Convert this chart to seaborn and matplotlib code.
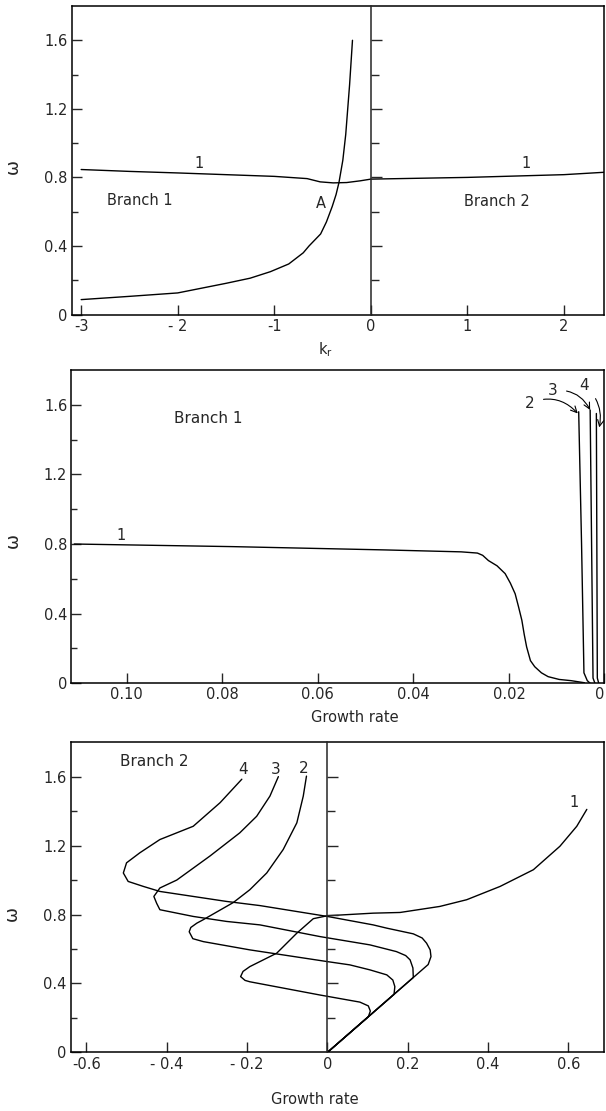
import matplotlib
matplotlib.use("Agg")
import matplotlib.pyplot as plt
import seaborn as sns

# ---- panel 1: omega vs k_r ----
kr_curve1 = [-3.0, -2.5, -2.0, -1.5, -1.0, -0.66, -0.525, -0.39, -0.25, -0.11, 0.0, 0.5, 1.0, 1.5, 2.0, 2.42]
w_curve1 = [0.846, 0.835, 0.826, 0.816, 0.806, 0.793, 0.774, 0.768, 0.770, 0.780, 0.790, 0.795, 0.800, 0.808, 0.816, 0.830]
kr_curveA = [-3.0, -2.5, -2.0, -1.5, -1.25, -1.04, -0.85, -0.70, -0.64, -0.58, -0.52, -0.46,
             -0.40, -0.36, -0.33, -0.29, -0.26, -0.22, -0.19]
w_curveA = [0.087, 0.106, 0.126, 0.182, 0.212, 0.25, 0.295, 0.36, 0.40, 0.435, 0.47, 0.54,
            0.63, 0.70, 0.77, 0.90, 1.05, 1.34, 1.60]

# ---- panel 2: branch 1, omega vs growth rate ----
g1_curve1 = [0.111, 0.0778, 0.0458, 0.030, 0.0266, 0.0255, 0.0243, 0.0225, 0.0208, 0.0197, 0.0187,
             0.0180, 0.0173, 0.0168, 0.0163, 0.0155, 0.0146, 0.0132, 0.0118, 0.0095, 0.0070, 0.0042]
w1_curve1 = [0.80, 0.785, 0.766, 0.755, 0.748, 0.735, 0.705, 0.675, 0.63, 0.575, 0.514,
             0.44, 0.362, 0.28, 0.209, 0.13, 0.095, 0.06, 0.038, 0.022, 0.015, 0.003]
g1_curve2 = [0.0054, 0.0048, 0.0043, 0.0036, 0.0030]
w1_curve2 = [1.56, 0.80, 0.06, 0.015, 0.0]
g1_curve3 = [0.0030, 0.0027, 0.0024, 0.0020]
w1_curve3 = [1.57, 0.80, 0.03, 0.0]
g1_curve4 = [0.0017, 0.0016, 0.0015, 0.0012]
w1_curve4 = [1.55, 0.80, 0.03, 0.0]

# ---- panel 3: branch 2, omega vs growth rate ----
g2_curve1 = [0.0, 0.102, 0.107, 0.102, 0.081, -0.018, -0.193, -0.205, -0.216, -0.21, -0.193, -0.126, -0.076,
             -0.035, 0.0, 0.114, 0.181, 0.28, 0.347, 0.43, 0.513, 0.579, 0.621, 0.646]
w2_curve1 = [0.0, 0.207, 0.24, 0.27, 0.292, 0.333, 0.41, 0.418, 0.44, 0.47, 0.498, 0.576, 0.692,
             0.776, 0.793, 0.808, 0.812, 0.847, 0.886, 0.963, 1.06, 1.196, 1.312, 1.41]
g2_curve2 = [-0.052, -0.060, -0.076, -0.110, -0.151, -0.193, -0.234, -0.309, -0.325, -0.340, -0.344, -0.335,
             -0.309, -0.193, 0.0, 0.056, 0.106, 0.148, 0.163, 0.168, 0.166, 0.0]
w2_curve2 = [1.603, 1.487, 1.332, 1.177, 1.041, 0.944, 0.870, 0.770, 0.75, 0.725, 0.70, 0.66,
             0.643, 0.595, 0.527, 0.508, 0.479, 0.450, 0.42, 0.382, 0.337, 0.0]
g2_curve3 = [-0.122, -0.143, -0.176, -0.218, -0.292, -0.375, -0.417, -0.432, -0.425, -0.417,
             -0.334, -0.251, -0.168, -0.018, 0.106, 0.172, 0.195, 0.206, 0.213, 0.214, 0.0]
w2_curve3 = [1.600, 1.487, 1.370, 1.274, 1.140, 1.000, 0.954, 0.905, 0.865, 0.828,
             0.789, 0.760, 0.740, 0.672, 0.624, 0.585, 0.562, 0.537, 0.49, 0.435, 0.0]
g2_curve4 = [-0.213, -0.267, -0.334, -0.417, -0.467, -0.500, -0.508, -0.496, -0.458, -0.417,
             -0.334, -0.251, -0.168, 0.0, 0.114, 0.148, 0.214, 0.236, 0.247, 0.256, 0.258, 0.251, 0.0]
w2_curve4 = [1.585, 1.449, 1.312, 1.235, 1.158, 1.100, 1.041, 0.992, 0.963, 0.934,
             0.905, 0.876, 0.852, 0.789, 0.740, 0.721, 0.688, 0.664, 0.634, 0.595, 0.556, 0.510, 0.0]

w_ticks = [0, 0.4, 0.8, 1.2, 1.6]
w_minor = [0.2, 0.6, 1.0, 1.4]
w_ticklabels = ["0", "0.4", "0.8", "1.2", "1.6"]
kr_ticks = [-3, -2, -1, 0, 1, 2]
kr_ticklabels = ["-3", "- 2", "-1", "0", "1", "2"]
g1_ticks = [0.10, 0.08, 0.06, 0.04, 0.02, 0.0]
g1_ticklabels = ["0.10", "0.08", "0.06", "0.04", "0.02", "0"]
g2_ticks = [-0.6, -0.4, -0.2, 0, 0.2, 0.4, 0.6]
g2_ticklabels = ["-0.6", "- 0.4", "- 0.2", "0", "0.2", "0.4", "0.6"]

sns.set_style("ticks")
plt.rcParams["font.family"] = ["DejaVu Sans"]
plt.rcParams["axes.linewidth"] = 1.1

LW = 1.0
TICK_FS = 10.5


def draw(ax, x, y):
    sns.lineplot(x=x, y=y, sort=False, estimator=None, color="black", lw=LW, ax=ax)


def style_axes(ax, xlim, xticks, xlabels, xlabel, xlabel_pos, ylabel_y):
    ax.set_xlim(*xlim)
    ax.set_ylim(0, 1.8)
    ax.set_xticks(xticks)
    ax.set_xticklabels(xlabels, fontsize=TICK_FS)
    ax.set_yticks(w_ticks)
    ax.set_yticklabels(w_ticklabels, fontsize=TICK_FS)
    ax.set_yticks(w_minor, minor=True)
    ax.tick_params(axis="both", which="major", direction="in", length=7, width=1.0, pad=3)
    ax.tick_params(axis="y", which="minor", direction="in", length=4, width=1.0)
    ax.tick_params(axis="x", which="minor", length=0)
    for s in ax.spines.values():
        s.set_visible(True)
        s.set_color("black")
    ax.set_xlabel(xlabel, fontsize=10.5)
    ax.xaxis.set_label_coords(*xlabel_pos)
    ax.xaxis.label.set_verticalalignment("center")
    ax.set_ylabel("ω", fontsize=13)
    ax.yaxis.set_label_coords(-0.11, ylabel_y)
    ax.yaxis.label.set_verticalalignment("center")


def zero_line(ax):
    # vertical line at zero growth / k_r = 0 with its own ticks
    ax2 = ax.twinx()
    ax2.set_ylim(ax.get_ylim())
    for s in ["top", "bottom", "right"]:
        ax2.spines[s].set_visible(False)
    ax2.spines["left"].set_position(("data", 0))
    ax2.spines["left"].set_linewidth(1.1)
    ax2.yaxis.set_ticks_position("left")
    ax2.set_yticks(w_ticks[1:])
    ax2.set_yticks(w_minor, minor=True)
    ax2.tick_params(axis="y", which="major", direction="in", length=8, width=1.0, labelleft=False, labelright=False)
    ax2.tick_params(axis="y", which="minor", direction="in", length=6, width=1.0)
    return ax2


fig = plt.figure(figsize=(6.06, 11.11), dpi=100)

# top panel
ax1 = fig.add_axes([0.1180, 0.7169, 0.8795, 0.2777])
draw(ax1, kr_curve1, w_curve1)
draw(ax1, kr_curveA, w_curveA)
style_axes(ax1, (-3.1, 2.42), kr_ticks, kr_ticklabels, r"k$_\mathregular{r}$", (0.477, -0.115), 0.479)
zero_line(ax1)
ax1.text(-2.39, 0.667, "Branch 1", fontsize=10.5, ha="center", va="center")
ax1.text(1.31, 0.657, "Branch 2", fontsize=10.5, ha="center", va="center")
ax1.text(-0.52, 0.648, "A", fontsize=10.5, ha="center", va="center")
ax1.text(-1.78, 0.88, "1", fontsize=10.5, ha="center", va="center")
ax1.text(1.61, 0.88, "1", fontsize=10.5, ha="center", va="center")

# middle panel
ax2 = fig.add_axes([0.1178, 0.3850, 0.8797, 0.2820])
for gx, wy in [(g1_curve1, w1_curve1), (g1_curve2, w1_curve2), (g1_curve3, w1_curve3), (g1_curve4, w1_curve4)]:
    draw(ax2, gx, wy)
style_axes(ax2, (0.1116, 0.0005), g1_ticks, g1_ticklabels, "Growth rate", (0.532, -0.108), 0.457)
# last tick label sits on the figure edge; keep it inside
ax2.get_xticklabels()[-1].set_horizontalalignment("right")
ax2.text(0.083, 1.52, "Branch 1", fontsize=11, ha="center", va="center")
ax2.text(0.1012, 0.85, "1", fontsize=10.5, ha="center", va="center")
arrow = dict(arrowstyle="->", lw=0.8, color="black", shrinkA=4, shrinkB=0)
ax2.annotate("2", xy=(0.0056, 1.55), xytext=(0.0156, 1.61), fontsize=11, ha="center", va="center",
             arrowprops=dict(arrow, connectionstyle="arc3,rad=-0.35"))
ax2.annotate("3", xy=(0.0030, 1.57), xytext=(0.0108, 1.68), fontsize=11, ha="center", va="center",
             arrowprops=dict(arrow, connectionstyle="arc3,rad=-0.35"))
ax2.annotate("4", xy=(0.0011, 1.47), xytext=(0.0042, 1.71), fontsize=11, ha="center", va="center",
             arrowprops=dict(arrow, connectionstyle="arc3,rad=-0.3"))

# bottom panel
ax3 = fig.add_axes([0.1167, 0.0527, 0.8808, 0.2793])
for gx, wy in [(g2_curve1, w2_curve1), (g2_curve2, w2_curve2), (g2_curve3, w2_curve3), (g2_curve4, w2_curve4)]:
    draw(ax3, gx, wy)
style_axes(ax3, (-0.639, 0.69), g2_ticks, g2_ticklabels, "Growth rate", (0.458, -0.153), 0.449)
zero_line(ax3)
ax3.text(-0.43, 1.69, "Branch 2", fontsize=11, ha="center", va="center")
ax3.text(-0.209, 1.64, "4", fontsize=11, ha="center", va="center")
ax3.text(-0.128, 1.64, "3", fontsize=11, ha="center", va="center")
ax3.text(-0.06, 1.645, "2", fontsize=11, ha="center", va="center")
ax3.text(0.614, 1.45, "1", fontsize=10.5, ha="center", va="center")

fig.savefig("out.png", dpi=100)
